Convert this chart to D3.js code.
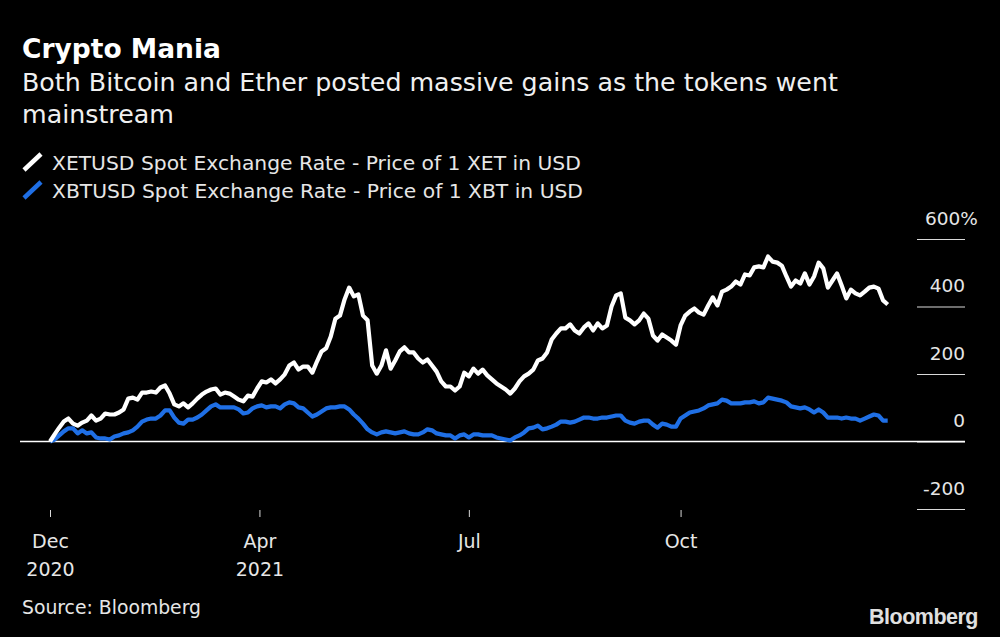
<!DOCTYPE html>
<html>
<head>
<meta charset="utf-8">
<script src="https://cdn.jsdelivr.net/npm/d3@7"></script>
<style>
  html, body { margin: 0; padding: 0; background: #000; }
  svg { display: block; font-family: "DejaVu Sans", sans-serif; }
</style>
</head>
<body>
<div id="chart"></div>
<script>
// series sampled every 2 days, starting Dec 31 2020 (% change)
const startDate = "2020-12-31";
const stepDays = 2;

const etherValues = [
  0, 21, 41, 59, 68, 53, 47, 56, 62, 77,
  62, 68, 83, 80, 80, 86, 95, 127, 130, 124,
  145, 145, 148, 145, 160, 166, 142, 110, 104, 113,
  101, 113, 127, 139, 148, 154, 157, 139, 145, 142,
  133, 124, 119, 136, 133, 157, 178, 175, 184, 172,
  184, 199, 225, 234, 213, 222, 222, 204, 237, 267,
  276, 311, 364, 373, 421, 456, 430, 436, 373, 359,
  225, 201, 225, 270, 216, 240, 267, 279, 264, 264,
  246, 234, 243, 225, 207, 178, 163, 163, 151, 163,
  204, 193, 216, 201, 213, 196, 184, 172, 163, 154,
  142, 157, 178, 193, 201, 213, 240, 246, 264, 302,
  320, 335, 335, 347, 329, 320, 338, 350, 329, 350,
  335, 344, 400, 433, 439, 367, 359, 347, 359, 379,
  364, 314, 299, 317, 308, 299, 287, 344, 373, 385,
  394, 382, 376, 403, 427, 403, 444, 450, 459, 474,
  465, 495, 492, 516, 519, 516, 548, 533, 530, 521,
  489, 459, 477, 468, 498, 465, 489, 530, 513, 456,
  477, 498, 462, 424, 450, 439, 433, 444, 456, 459,
  453, 418, 406
];

const bitcoinValues = [
  0, 6, 18, 30, 39, 39, 24, 33, 24, 27,
  12, 9, 9, 6, 15, 18, 24, 27, 33, 44,
  59, 65, 68, 68, 77, 92, 92, 71, 56, 53,
  65, 65, 71, 80, 92, 104, 110, 101, 101, 101,
  101, 95, 83, 86, 98, 104, 107, 101, 104, 104,
  98, 110, 116, 113, 101, 98, 86, 74, 80, 89,
  98, 101, 101, 104, 104, 95, 80, 68, 53, 36,
  27, 21, 27, 30, 27, 24, 27, 30, 24, 21,
  21, 27, 36, 33, 24, 21, 18, 18, 9, 18,
  21, 12, 21, 21, 18, 18, 18, 12, 9, 6,
  3, 12, 18, 27, 39, 41, 47, 36, 39, 44,
  50, 59, 59, 56, 59, 65, 71, 71, 68, 68,
  71, 71, 74, 77, 77, 62, 56, 53, 59, 62,
  62, 50, 41, 53, 50, 44, 44, 68, 77, 86,
  89, 92, 98, 107, 110, 113, 124, 121, 113, 113,
  113, 116, 116, 119, 113, 116, 130, 127, 124, 121,
  116, 104, 101, 98, 101, 95, 86, 95, 86, 71,
  71, 71, 68, 71, 68, 68, 62, 68, 74, 80,
  77, 62, 62
];

const seriesNames = [
  "XETUSD Spot Exchange Rate - Price of 1 XET in USD",
  "XBTUSD Spot Exchange Rate - Price of 1 XBT in USD"
];
const seriesColors = ["#ffffff", "#1f6fe5"];

const yTicks = [-200, 0, 200, 400, 600];
const xTickDates = ["2020-12-31", "2021-04-01", "2021-07-01", "2021-10-01"];
const xTickLabels = [["Dec", "2020"], ["Apr", "2021"], ["Jul", ""], ["Oct", ""]];

const width = 1000;
const height = 637;

const parse = d3.timeParse("%Y-%m-%d");
const start = parse(startDate);
const dates = etherValues.map((d, i) => d3.timeDay.offset(start, i * stepDays));

const x = d3.scaleTime()
  .domain([start, parse("2021-12-31")])
  .range([50, 890]);
const y = d3.scaleLinear()
  .domain([-200, 600])
  .range([509, 239]);

const svg = d3.select("#chart").append("svg")
  .attr("width", width)
  .attr("height", height);

svg.append("rect").attr("width", width).attr("height", height).attr("fill", "#000");

// title + subtitle
svg.append("text")
  .attr("x", 22).attr("y", 58)
  .attr("fill", "#fff")
  .style("font-size", "26.5px").style("font-weight", "bold")
  .text("Crypto Mania");
const sub = ["Both Bitcoin and Ether posted massive gains as the tokens went", "mainstream"];
svg.selectAll(".sub").data(sub).enter().append("text")
  .attr("x", 22).attr("y", (d, i) => 91 + i * 32)
  .attr("fill", "#f0f0f0")
  .style("font-size", "25.3px")
  .text(d => d);

// legend
const legend = svg.selectAll(".legend").data(seriesNames).enter().append("g")
  .attr("transform", (d, i) => `translate(22, ${170 + i * 28})`);
legend.append("line")
  .attr("x1", 2).attr("y1", 0).attr("x2", 19).attr("y2", -16)
  .attr("stroke", (d, i) => seriesColors[i])
  .attr("stroke-width", 4.5);
legend.append("text")
  .attr("x", 30).attr("y", 0)
  .attr("fill", "#e6e6e6")
  .style("font-size", "20.3px")
  .text(d => d);

// y axis on the right: short lines with labels above them
const yAxis = svg.append("g")
  .attr("transform", "translate(965, 0)")
  .call(d3.axisLeft(y).tickValues(yTicks).tickSize(48).tickFormat(d => d));
yAxis.select(".domain").remove();
yAxis.selectAll(".tick line").attr("stroke", "#d9d9d9").attr("stroke-width", 1.2);
yAxis.selectAll(".tick text")
  .attr("x", 0).attr("dy", "-0.8em")
  .attr("text-anchor", "end")
  .attr("fill", "#e6e6e6")
  .style("font-size", "18.5px")
  .style("font-family", "DejaVu Sans, sans-serif")
  .text(d => d);
yAxis.selectAll(".tick").filter(d => d === 600).select("text")
  .attr("text-anchor", "start").attr("x", -40).text("600%");

// zero line
svg.append("line")
  .attr("x1", 20).attr("x2", 965)
  .attr("y1", y(0)).attr("y2", y(0))
  .attr("stroke", "#ffffff").attr("stroke-width", 1.5);

// x axis
const xAxis = svg.append("g")
  .attr("transform", "translate(0, 510)")
  .call(d3.axisBottom(x).tickValues(xTickDates.map(parse)).tickSize(7).tickFormat(""));
xAxis.select(".domain").remove();
xAxis.selectAll(".tick line").attr("stroke", "#d9d9d9");
xAxis.selectAll(".tick").each(function (d, i) {
  const t = d3.select(this).append("text")
    .attr("text-anchor", "middle")
    .attr("fill", "#e6e6e6")
    .style("font-size", "19px")
    .style("font-family", "DejaVu Sans, sans-serif");
  xTickLabels[i].forEach((s, k) => {
    t.append("tspan").attr("x", 0).attr("y", 38 + k * 28).text(s);
  });
});

// lines
const line = d3.line()
  .x((d, i) => x(dates[i]))
  .y(d => y(d));

svg.append("path")
  .datum(bitcoinValues)
  .attr("fill", "none")
  .attr("stroke", seriesColors[1])
  .attr("stroke-width", 4.2)
  .attr("stroke-linejoin", "round")
  .attr("d", line);

svg.append("path")
  .datum(etherValues)
  .attr("fill", "none")
  .attr("stroke", seriesColors[0])
  .attr("stroke-width", 4.2)
  .attr("stroke-linejoin", "round")
  .attr("d", line);

// footer
svg.append("text")
  .attr("x", 22).attr("y", 614)
  .attr("fill", "#e6e6e6")
  .style("font-size", "18.8px")
  .text("Source: Bloomberg");
svg.append("text")
  .attr("x", 978).attr("y", 624)
  .attr("text-anchor", "end")
  .attr("fill", "#e0e0e0")
  .style("font-family", "Liberation Sans, Arial, sans-serif")
  .style("font-size", "21.5px").style("font-weight", "bold")
  .style("letter-spacing", "-0.5px")
  .text("Bloomberg");
</script>
</body>
</html>
